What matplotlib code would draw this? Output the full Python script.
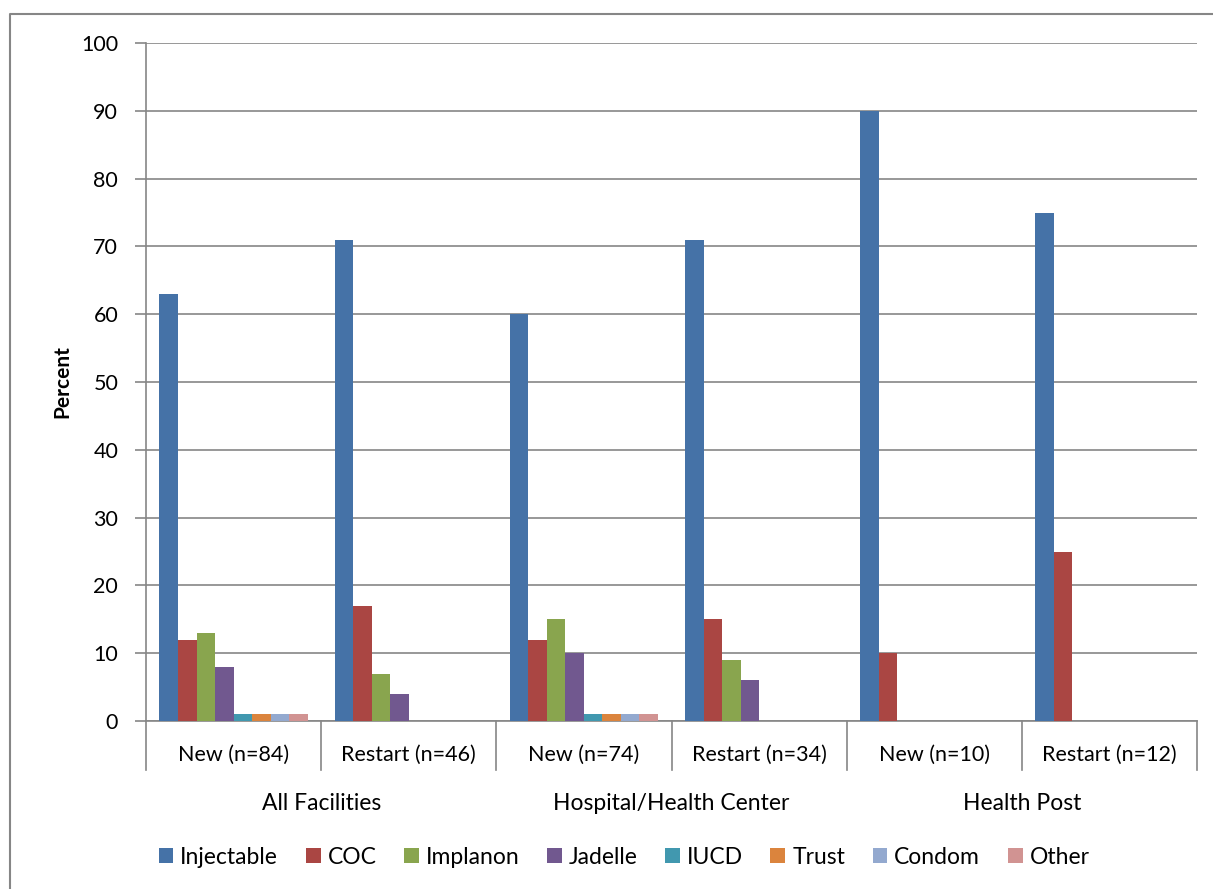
import matplotlib
matplotlib.use("Agg")
import matplotlib.pyplot as plt
import numpy as np
from matplotlib.lines import Line2D
from matplotlib.patches import Patch

plt.rcParams['font.family'] = ['Lato', 'DejaVu Sans']

subcats = ["New (n=84)", "Restart (n=46)", "New (n=74)", "Restart (n=34)", "New (n=10)", "Restart (n=12)"]
groups = ["All Facilities", "Hospital/Health Center", "Health Post"]
series = ["Injectable", "COC", "Implanon", "Jadelle", "IUCD", "Trust", "Condom", "Other"]
injectable = [63, 71, 60, 71, 90, 75]
coc = [12, 17, 12, 15, 10, 25]
implanon = [13, 7, 15, 9, 0, 0]
jadelle = [8, 4, 10, 6, 0, 0]
iucd = [1, 0, 1, 0, 0, 0]
trust = [1, 0, 1, 0, 0, 0]
condom = [1, 0, 1, 0, 0, 0]
other = [1, 0, 1, 0, 0, 0]
values = [injectable, coc, implanon, jadelle, iucd, trust, condom, other]
colors = ["#4572A7", "#AA4643", "#89A54E", "#71588F", "#4198AF", "#DB843D", "#93A9CF", "#D19392"]

W, H = 1213, 889
fig = plt.figure(figsize=(W / 100, H / 100), dpi=100)
ax = fig.add_axes([146 / W, 1 - 721 / H, (1197 - 146) / W, (721 - 43) / H])

n = len(series)
bw = 0.846 / n
x = np.arange(len(subcats))
for i, (name, vals, c) in enumerate(zip(series, values, colors)):
    ax.bar(x - 0.423 + bw * (i + 0.5), vals, width=bw, color=c, label=name,
           linewidth=0, zorder=3)

ax.set_xlim(-0.5, len(subcats) - 0.5)
ax.set_ylim(0, 100)
ax.set_yticks(np.arange(0, 101, 10))
ax.yaxis.grid(True, color='#868686', linewidth=1.2, zorder=0)
ax.set_axisbelow(True)
for s in ['top', 'right']:
    ax.spines[s].set_visible(False)
for s in ['left', 'bottom']:
    ax.spines[s].set_color('#868686')
    ax.spines[s].set_linewidth(1.2)
ax.tick_params(axis='y', length=8, width=1.2, color='#868686', labelsize=15.5, pad=12)
ax.set_xticks([])

ax.set_ylabel("Percent", fontsize=15, fontweight='bold', labelpad=6)

# sub-category labels and separators
ax_h = 721 - 43
for i, lab in enumerate(subcats):
    ax.text(i, -(755 - 721) / ax_h, lab, transform=ax.get_xaxis_transform(),
            ha='center', va='center', fontsize=15.5)
for b in np.arange(-0.5, len(subcats), 1):
    ax.plot([b, b], [0, -(770 - 721) / ax_h], transform=ax.get_xaxis_transform(),
            color='#868686', linewidth=1.2, clip_on=False)
for g, lab in enumerate(groups):
    ax.text(2 * g + 0.5, -(803 - 721) / ax_h, lab, transform=ax.get_xaxis_transform(),
            ha='center', va='center', fontsize=16.5)

# outer border
fig.add_artist(Line2D([10 / W, 10 / W, 1.0], [0, 1 - 14 / H, 1 - 14 / H],
                      transform=fig.transFigure, color='#868686', linewidth=1.5))

handles = [Patch(facecolor=c, edgecolor='none') for c in colors]
fig.legend(handles, series, loc='center', bbox_to_anchor=(624 / W, 1 - 857 / H), ncol=8,
           frameon=False, fontsize=16.5, handlelength=0.65, handleheight=0.65,
           handletextpad=0.3, columnspacing=1.2)

fig.savefig("out.png", dpi=100)
